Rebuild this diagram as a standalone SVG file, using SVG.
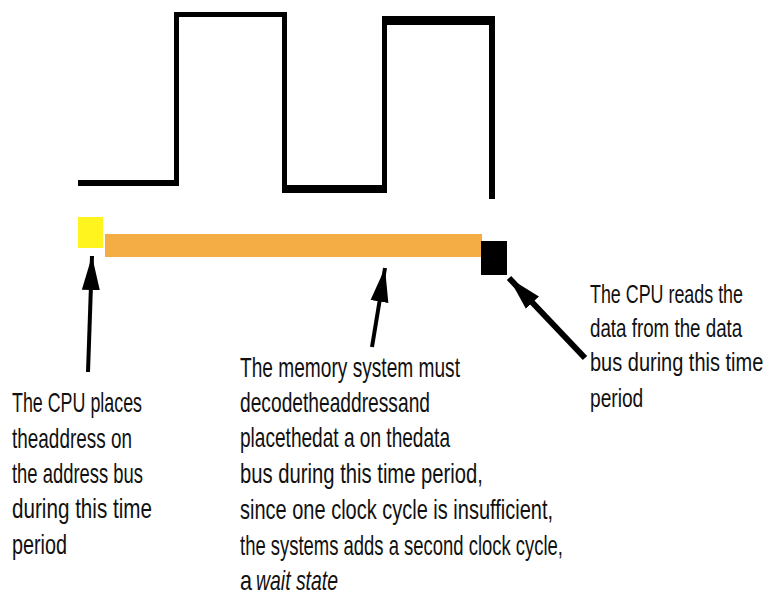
<svg xmlns="http://www.w3.org/2000/svg" width="769" height="599" viewBox="0 0 769 599">
<style>
.t{font-family:"Liberation Sans",Arial,sans-serif;font-size:28px;fill:#111}
.r{font-size:26px}
.i{font-style:italic}
.w{fill:#000}
.c{stroke:#000;fill:none;stroke-linecap:butt}
</style>
<defs>
<marker id="ah" markerUnits="userSpaceOnUse" markerWidth="36" markerHeight="20" refX="34" refY="9" orient="auto" viewBox="0 0 36 18">
<path d="M0,0 L34,9 L0,18 Z" fill="#000"/>
</marker>
</defs>
<rect width="769" height="599" fill="#fff"/>
<g id="clock">
<rect class="w" x="78" y="180" width="100" height="6"/>
<rect class="w" x="174" y="12" width="5" height="174"/>
<rect class="w" x="174" y="12" width="113" height="5"/>
<rect class="w" x="282" y="12" width="5" height="181"/>
<rect class="w" x="282" y="185" width="105" height="8"/>
<rect class="w" x="382" y="16" width="5" height="177"/>
<rect class="w" x="382" y="16" width="113" height="9"/>
<rect class="w" x="489" y="16" width="6" height="183"/>
</g>
<g id="address-period"><rect x="78" y="217" width="25" height="31" fill="#FFF41E"/></g>
<g id="memory-period"><rect x="105" y="234" width="377" height="23" fill="#F4AC44"/></g>
<g id="read-period"><rect x="481" y="241" width="26" height="34" fill="#000"/></g>
<g id="connectors">
<line class="c" x1="88" y1="372" x2="92" y2="256" stroke-width="4" marker-end="url(#ah)"/>
<line class="c" x1="372" y1="347" x2="385" y2="268" stroke-width="4" marker-end="url(#ah)"/>
<line class="c" x1="585" y1="358" x2="509" y2="278" stroke-width="6" marker-end="url(#ah)"/>
</g>
<g id="label-left">
<text class="t" x="12" y="412" textLength="130" lengthAdjust="spacingAndGlyphs">The CPU places</text>
<text class="t" x="12" y="448" textLength="120" lengthAdjust="spacingAndGlyphs">theaddress on</text>
<text class="t" x="12" y="483" textLength="131" lengthAdjust="spacingAndGlyphs">the address bus</text>
<text class="t" x="12" y="518" textLength="140" lengthAdjust="spacingAndGlyphs">during this time</text>
<text class="t" x="12" y="554" textLength="55" lengthAdjust="spacingAndGlyphs">period</text>
</g>
<g id="label-middle">
<text class="t" x="240" y="377" textLength="220" lengthAdjust="spacingAndGlyphs">The memory system must</text>
<text class="t" x="240" y="412" textLength="190" lengthAdjust="spacingAndGlyphs">decodetheaddressand</text>
<text class="t" x="240" y="447" textLength="210" lengthAdjust="spacingAndGlyphs">placethedat a on thedata</text>
<text class="t" x="240" y="483" textLength="243" lengthAdjust="spacingAndGlyphs">bus during this time period,</text>
<text class="t" x="240" y="519" textLength="313" lengthAdjust="spacingAndGlyphs">since one clock cycle is insufficient,</text>
<text class="t" x="240" y="555" textLength="323" lengthAdjust="spacingAndGlyphs">the systems adds a second clock cycle,</text>
<text class="t" x="240" y="590" textLength="12" lengthAdjust="spacingAndGlyphs">a</text>
<text class="t i" x="256" y="590" textLength="82" lengthAdjust="spacingAndGlyphs">wait state</text>
</g>
<g id="label-right" transform="translate(590 0) scale(0.75 1)">
<text class="t r" x="0" y="303" textLength="204" lengthAdjust="spacingAndGlyphs">The CPU reads the</text>
<text class="t r" x="0" y="337" textLength="203" lengthAdjust="spacingAndGlyphs">data from the data</text>
<text class="t r" x="0" y="371" textLength="231" lengthAdjust="spacingAndGlyphs">bus during this time</text>
<text class="t r" x="0" y="407" textLength="71" lengthAdjust="spacingAndGlyphs">period</text>
</g>
</svg>
